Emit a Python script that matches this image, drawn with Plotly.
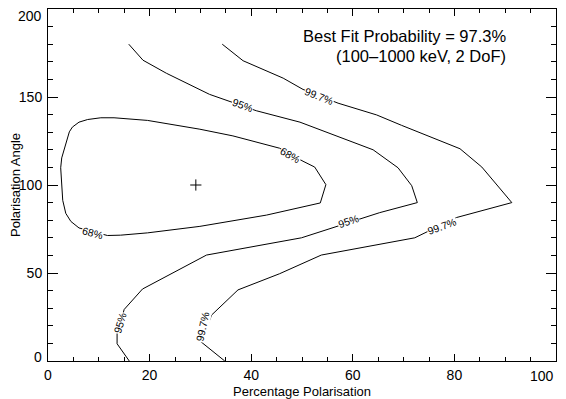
import plotly.graph_objects as go

# contour vertices (percentage polarisation, angle)
c68_x = [54.7, 52.5, 50.2, 45.6, 36.4, 29.9, 19.6, 13.0, 10.4, 7.8, 6.1, 4.8, 4.2, 3.8,
         3.2, 2.7, 2.5, 2.7, 2.9, 3.5, 4.5, 6.1, 11.7, 14.3, 19.6, 29.9, 43.0, 53.6, 54.7]
c68_y = [100.2, 110.2, 113.5, 120.9, 127.9, 131.7, 136.7, 138.2, 138.2, 137.2, 135.7, 132.9, 130.2, 126.5,
         120.9, 115.4, 109.8, 100.6, 91.3, 83.9, 79.3, 75.6, 71.3, 71.5, 72.8, 76.5, 82.9, 89.8, 100.2]

c95_x = [15.9, 18.7, 23.3, 31.8, 41.0, 45.6, 49.6, 64.0, 68.9, 71.6, 72.7, 65.3, 56.8,
         49.9, 31.2, 24.9, 18.6, 15.0, 13.6, 13.6, 16.0]
c95_y = [180, 170.9, 163.5, 151.5, 142.2, 138.5, 135.7, 120, 109.8, 99.6, 90, 84.3, 76.5,
         70, 60.2, 50.6, 40.9, 29.3, 15.4, 9.8, 0]

c997_x = [34.3, 38.4, 46.3, 50.2, 57.1, 64.7, 69.6, 81.1, 85.4, 91.3, 80.4, 74.2, 72.2,
          53.8, 45.6, 37.4, 32.2, 30.2, 34.8]
c997_y = [180, 170.6, 160.7, 154.3, 146.5, 139.8, 133.9, 120.6, 110.2, 90, 81.5, 72.8, 70,
          60.2, 49.6, 40.4, 26.1, 10.7, 0]

best_fit = (29.1, 100)

# contour labels: text, x, y, rotation
labels = [
    ("68%", 47.7, 117.2, 30), ("68%", 8.8, 72.6, 15),
    ("95%", 38.3, 145.2, 20), ("95%", 59.2, 79.3, -18), ("95%", 14.1, 21.8, -73),
    ("99.7%", 53.3, 150.3, 22), ("99.7%", 77.6, 76.5, -20), ("99.7%", 30.3, 19.6, -78),
]

font = "Liberation Sans"

fig = go.Figure()
for xs, ys in [(c68_x, c68_y), (c95_x, c95_y), (c997_x, c997_y)]:
    fig.add_trace(go.Scatter(x=xs, y=ys, mode="lines",
                             line=dict(color="black", width=1), hoverinfo="skip"))

fig.add_trace(go.Scatter(x=[best_fit[0]], y=[best_fit[1]], mode="markers",
                         marker=dict(symbol="cross-thin", size=8,
                                     line=dict(color="black", width=1))))

for txt, lx, ly, ang in labels:
    fig.add_annotation(x=lx, y=ly, text=txt, showarrow=False, textangle=ang,
                       bgcolor="white", borderpad=0,
                       font=dict(family=font, size=10.5, color="black"))

fig.add_annotation(xref="paper", yref="paper", x=0.9055, y=0.9545,
                   text="Best Fit Probability = 97.3%", showarrow=False, xanchor="right",
                   font=dict(family=font, size=16.5, color="black"))
fig.add_annotation(xref="paper", yref="paper", x=0.9055, y=0.899,
                   text="(100\u20131000 keV, 2 DoF)", showarrow=False, xanchor="right",
                   font=dict(family=font, size=16.5, color="black"))

# end labels of the axes are nudged so they stay inside the page
for v, shift in [(0, 4), (200, -7)]:
    fig.add_annotation(xref="paper", yref="y", x=0, y=v, text=str(v), showarrow=False,
                       xanchor="right", xshift=-4, yshift=shift,
                       font=dict(family=font, size=14, color="black"))
fig.add_annotation(xref="x", yref="paper", x=100, y=0, text="100", showarrow=False,
                   yanchor="top", xanchor="right", xshift=0, yshift=-5,
                   font=dict(family=font, size=14, color="black"))

axis_common = dict(showline=True, linecolor="black", linewidth=1, mirror="allticks",
                   showgrid=False, zeroline=False, ticks="inside", tickcolor="black",
                   tickwidth=1, automargin=False,
                   tickfont=dict(family=font, size=14, color="black"))

fig.update_xaxes(range=[0, 100], tickmode="array", tickvals=[0, 20, 40, 60, 80, 100],
                 ticktext=["0", "20", "40", "60", "80", ""], ticklen=7, ticklabelstandoff=1,
                 minor=dict(dtick=5, ticklen=4, ticks="inside", tickcolor="black"),
                 title=dict(text="Percentage Polarisation", standoff=6,
                            font=dict(family=font, size=13, color="black")),
                 **axis_common)
fig.update_yaxes(range=[0, 200], tickmode="array", tickvals=[0, 50, 100, 150, 200],
                 ticktext=["", "50", "100", "150", ""], ticklen=10, ticklabelstandoff=2,
                 minor=dict(dtick=10, ticklen=5, ticks="inside", tickcolor="black"),
                 title=dict(text="Polarisation Angle", standoff=10,
                            font=dict(family=font, size=13, color="black")),
                 **axis_common)

# page body adds an 8px margin, so the figure is 8px smaller than the window
fig.update_layout(width=558, height=391, showlegend=False,
                  margin=dict(l=40, r=10, t=1, b=38),
                  plot_bgcolor="white", paper_bgcolor="white")

fig.write_html("out.html")
